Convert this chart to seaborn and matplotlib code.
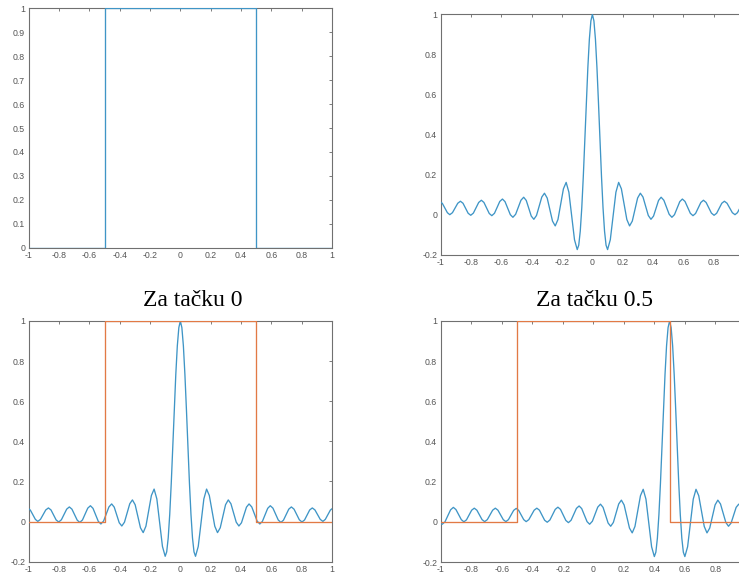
import numpy as np
import pandas as pd
import matplotlib
matplotlib.use("Agg")
import matplotlib.pyplot as plt
import seaborn as sns

# ---- data ----
# rectangular pulse
rect_x = [-1.0, -0.5, -0.5, 0.5, 0.5, 1.0]
rect_y = [0.0, 0.0, 1.0, 1.0, 0.0, 0.0]

# kernel (one side, offset d >= 0 from its centre), symmetric about the centre
half_d = [0.000, 0.010, 0.020, 0.030, 0.040, 0.050, 0.060, 0.070, 0.080, 0.090, 0.100,
          0.118, 0.1365, 0.155, 0.173,
          0.191, 0.209, 0.227, 0.245,
          0.263, 0.2805, 0.298, 0.316,
          0.3335, 0.351, 0.3685, 0.386,
          0.403, 0.4195, 0.436, 0.453,
          0.471, 0.4885, 0.506, 0.524,
          0.541, 0.5585, 0.576, 0.593,
          0.6105, 0.628, 0.6455, 0.663,
          0.680, 0.6975, 0.715, 0.732,
          0.7495, 0.767, 0.7845, 0.802,
          0.819, 0.836, 0.853, 0.870,
          0.8875, 0.905, 0.9225, 0.940,
          0.956, 0.9725, 0.989, 1.005,
          1.022, 1.039, 1.056, 1.073,
          1.090, 1.1075, 1.125, 1.142,
          1.1595, 1.177, 1.1945, 1.212,
          1.229, 1.246, 1.263, 1.280,
          1.297, 1.314, 1.331, 1.348,
          1.365, 1.3825, 1.400, 1.417,
          1.435, 1.4535, 1.472, 1.490, 1.500]
half_v = [1.000, 0.967, 0.876, 0.734, 0.560, 0.372, 0.191, 0.036, -0.081, -0.151, -0.173,
          -0.124, -0.005, 0.113, 0.162,
          0.130, 0.054, -0.023, -0.055,
          -0.031, 0.027, 0.084, 0.108,
          0.089, 0.043, -0.003, -0.022,
          -0.006, 0.033, 0.072, 0.088,
          0.073, 0.038, 0.003, -0.012,
          0.001, 0.034, 0.066, 0.079,
          0.067, 0.038, 0.008, -0.004,
          0.007, 0.035, 0.062, 0.073,
          0.062, 0.036, 0.009, -0.002,
          0.008, 0.033, 0.058, 0.068,
          0.058, 0.035, 0.011, 0.001,
          0.011, 0.034, 0.057, 0.067,
          0.057, 0.034, 0.011, 0.001,
          0.011, 0.035, 0.058, 0.068,
          0.058, 0.035, 0.011, 0.001,
          0.011, 0.035, 0.058, 0.068,
          0.058, 0.034, 0.010, 0.000,
          0.011, 0.036, 0.061, 0.072,
          0.060, 0.030, 0.000, -0.012, -0.010]

centers = [0.0, 0.5]
titles = ["Za tačku 0", "Za tačku 0.5"]

x_ticks = [-1, -0.8, -0.6, -0.4, -0.2, 0, 0.2, 0.4, 0.6, 0.8, 1]
y_ticks_rect = [0, 0.1, 0.2, 0.3, 0.4, 0.5, 0.6, 0.7, 0.8, 0.9, 1]
y_ticks_kern = [-0.2, 0, 0.2, 0.4, 0.6, 0.8, 1]

BLUE = "#3f95c6"
ORANGE = "#e27a45"

# ---- build tables ----
hd = np.array(half_d)
hv = np.array(half_v)
kern_d = np.concatenate([-hd[:0:-1], hd])
kern_v = np.concatenate([hv[:0:-1], hv])
rect_df = pd.DataFrame({"x": rect_x, "y": rect_y})
kern_dfs = [pd.DataFrame({"x": kern_d + c, "y": kern_v}) for c in centers]

sns.set_theme(style="white")
plt.rcParams["font.family"] = ["Liberation Sans", "DejaVu Sans"]
plt.rcParams["axes.unicode_minus"] = False

W, H = 739, 581
fig = plt.figure(figsize=(W / 100, H / 100), dpi=100)
fig.patch.set_facecolor("white")


def px_axes(left, top, right, bottom):
    return fig.add_axes([left / W, 1 - bottom / H, (right - left) / W, (bottom - top) / H])


def fmt(v):
    v = round(v, 2)
    if v == 0:
        return "0"
    return f"{v:g}"


def style(ax, ylim, yticks, cropped=False):
    ax.set_xlim(-1, 1)
    ax.set_ylim(*ylim)
    ax.set_xticks(x_ticks)
    # the right-hand panels are cut at the image edge, so their "1" label is not shown
    ax.set_xticklabels([("" if (cropped and v == 1) else fmt(v)) for v in x_ticks])
    ax.set_yticks(yticks)
    ax.set_yticklabels([fmt(v) for v in yticks])
    ax.set_xlabel("")
    ax.set_ylabel("")
    ax.tick_params(direction="in", top=True, right=True, length=2.5, width=0.6,
                   labelsize=6.3, colors="#666666", labelcolor="#555555", pad=2.5)
    for s in ax.spines.values():
        s.set_color("#707070")
        s.set_linewidth(0.8)
        s.set_zorder(1)
    ax.set_facecolor("white")
    leg = ax.get_legend()
    if leg is not None:
        leg.remove()


LW = 0.95

def line(df, ax, color):
    sns.lineplot(data=df, x="x", y="y", ax=ax, color=color, lw=LW,
                 estimator=None, sort=False, zorder=3)

# top-left: rectangular pulse
ax1 = px_axes(28.7, 8, 332, 248)
line(rect_df, ax1, BLUE)
style(ax1, (0, 1), y_ticks_rect)

# top-right: kernel at 0 (cropped at the right edge)
ax2 = px_axes(440.7, 14.3, 440.7 + 303.4, 255)
line(kern_dfs[0], ax2, BLUE)
style(ax2, (-0.2, 1), y_ticks_kern, cropped=True)

# bottom-left: kernel at 0 + pulse
ax3 = px_axes(28.7, 321, 332, 561.7)
line(kern_dfs[0], ax3, BLUE)
line(rect_df, ax3, ORANGE)
style(ax3, (-0.2, 1), y_ticks_kern)

# bottom-right: kernel at 0.5 + pulse (cropped)
ax4 = px_axes(440.7, 321, 440.7 + 305.2, 562)
line(kern_dfs[1], ax4, BLUE)
line(rect_df, ax4, ORANGE)
style(ax4, (-0.2, 1), y_ticks_kern, cropped=True)

# captions between the rows
fig.text(193 / W, 1 - 300.7 / H, titles[0], ha="center", va="center",
         fontsize=17, family=["Liberation Serif", "DejaVu Serif"], color="black")
fig.text(594 / W, 1 - 300.7 / H, titles[1], ha="center", va="center",
         fontsize=17, family=["Liberation Serif", "DejaVu Serif"], color="black")

fig.savefig("out.png", dpi=100, facecolor="white")
